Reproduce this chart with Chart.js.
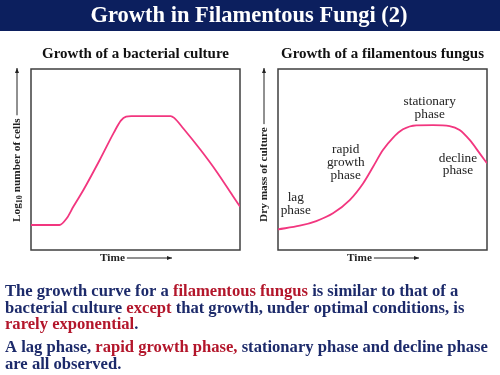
<!DOCTYPE html>
<html>
<head>
<meta charset="utf-8">
<script src="https://cdn.jsdelivr.net/npm/chart.js@4"></script>
<style>
  html, body { margin: 0; padding: 0; background: #fff; }
  body { width: 500px; height: 375px; position: relative; overflow: hidden; }
  canvas { position: absolute; }
  #slide { left: 0; top: 0; }
  #left { left: 0; top: 40px; }
  #right { left: 250px; top: 40px; }
</style>
</head>
<body>
<canvas id="slide" width="500" height="375"></canvas>
<canvas id="left" width="250" height="230"></canvas>
<canvas id="right" width="250" height="230"></canvas>
<script>
// Bacterial culture curve (time %, log10 cells %)
const bacteriaTime = [0, 13.6, 17.1, 20.3, 25, 33, 39.7, 43, 45.5, 48, 66.8, 68.5, 73, 81, 89, 96.5, 100];
const bacteriaCells = [13.8, 13.8, 17.5, 24, 33, 50, 65, 71.5, 73.7, 74, 74, 73, 67, 55.5, 43, 30, 24];

// Filamentous fungus curve (time %, dry mass %)
const fungusTime = [0, 10.4, 18.3, 26.3, 34.3, 40.7, 45.5, 50.2, 55, 59.8, 66.2, 74.2, 82.1, 86.9, 91.7, 96.5, 100];
const fungusMass = [11.4, 13.4, 16, 20.3, 27.6, 36.8, 46, 55.2, 62, 66.7, 68.9, 69, 68.5, 66.3, 60.8, 53.4, 47.9];

// Phase labels on the fungus chart
const phaseLines = [['lag', 'phase'], ['rapid', 'growth', 'phase'], ['stationary', 'phase'], ['decline', 'phase']];
const phaseX = [8.5, 32.4, 72.6, 86.1];
const phaseY = [25.3, 48.5, 78.3, 47.2];

// Slide notes, one entry per printed line: [text, isRed]
const noteLines = [
    [['The growth curve for a ', 0], ['filamentous fungus', 1], [' is similar to that of a', 0]],
    [['bacterial culture ', 0], ['except', 1], [' that growth, under optimal conditions, is', 0]],
    [['rarely exponential', 1], ['.', 0]],
    [['A lag phase, ', 0], ['rapid growth phase,', 1], [' stationary phase and decline phase', 0]],
    [['are all observed.', 0]]
];
const noteY = [292, 308.5, 325, 348, 364.5];

const curveColor = '#f2367f';
const inkColor = '#222';
const navy = '#1c2a6a';
const red = '#b3162b';
const serif = "'Liberation Serif', 'Times New Roman', serif";

// Title bar and notes
(function drawSlide() {
    const ctx = document.getElementById('slide').getContext('2d');
    ctx.fillStyle = '#0c1f5e';
    ctx.fillRect(0, 0, 500, 31);
    ctx.fillStyle = '#fff';
    ctx.font = 'bold 22.5px ' + serif;
    ctx.textAlign = 'center';
    ctx.textBaseline = 'middle';
    ctx.fillText('Growth in Filamentous Fungi (2)', 249, 16);

    ctx.font = 'bold 16.6px ' + serif;
    ctx.textAlign = 'left';
    noteLines.forEach((parts, i) => {
        let x = 5;
        parts.forEach(([t, r]) => {
            ctx.fillStyle = r ? red : navy;
            ctx.fillText(t, x, noteY[i]);
            x += ctx.measureText(t).width;
        });
    });
})();

function arrow(ctx, x1, y1, x2, y2) {
    const ang = Math.atan2(y2 - y1, x2 - x1);
    ctx.beginPath();
    ctx.moveTo(x1, y1);
    ctx.lineTo(x2, y2);
    ctx.stroke();
    ctx.beginPath();
    ctx.moveTo(x2, y2);
    ctx.lineTo(x2 - 5 * Math.cos(ang) + 2 * Math.sin(ang), y2 - 5 * Math.sin(ang) - 2 * Math.cos(ang));
    ctx.lineTo(x2 - 5 * Math.cos(ang) - 2 * Math.sin(ang), y2 - 5 * Math.sin(ang) + 2 * Math.cos(ang));
    ctx.closePath();
    ctx.fill();
}

// Frame, axis captions with arrows, phase labels
const decor = {
    id: 'decor',
    beforeDatasetsDraw(chart, args, opts) {
        const a = chart.chartArea;
        const ctx = chart.ctx;
        ctx.save();
        ctx.strokeStyle = '#3f3f3f';
        ctx.lineWidth = 1.5;
        ctx.strokeRect(a.left, a.top, a.right - a.left, a.bottom - a.top);
        ctx.restore();
    },
    afterDraw(chart, args, opts) {
        const a = chart.chartArea;
        const ctx = chart.ctx;
        ctx.save();
        ctx.fillStyle = inkColor;
        ctx.strokeStyle = inkColor;
        ctx.lineWidth = 1;

        // y caption, rotated
        ctx.save();
        ctx.translate(a.left - 14, a.bottom - 28);
        ctx.rotate(-Math.PI / 2);
        ctx.textBaseline = 'middle';
        ctx.textAlign = 'left';
        let w = 0;
        opts.yParts.forEach(p => {
            ctx.font = 'bold ' + (p.sub ? 8 : 11.3) + 'px ' + serif;
            ctx.fillText(p.t, w, p.sub ? 3 : 0);
            w += ctx.measureText(p.t).width;
        });
        arrow(ctx, w + 3, 0, (a.bottom - 28) - a.top + 1, 0);
        ctx.restore();

        // x caption
        ctx.font = 'bold 11.3px ' + serif;
        ctx.textBaseline = 'middle';
        ctx.textAlign = 'left';
        const tx = a.left + 69, ty = a.bottom + 8;
        ctx.fillText('Time', tx, ty);
        const tw = ctx.measureText('Time').width;
        arrow(ctx, tx + tw + 2, ty, a.left + 141, ty);

        // phase labels
        if (opts.phases) {
            const xs = chart.scales.x, ys = chart.scales.y;
            ctx.font = '13.3px ' + serif;
            ctx.textAlign = 'center';
            ctx.fillStyle = '#222';
            phaseLines.forEach((lines, i) => {
                const cx = xs.getPixelForValue(phaseX[i]);
                const cy = ys.getPixelForValue(phaseY[i]);
                const lh = 12.8;
                lines.forEach((t, j) => {
                    ctx.fillText(t, cx, cy + (j - (lines.length - 1) / 2) * lh);
                });
            });
        }
        ctx.restore();
    }
};

function makeChart(id, title, xs, ys, pad, yParts, phases) {
    return new Chart(document.getElementById(id), {
        type: 'line',
        data: {
            datasets: [{
                data: xs.map((x, i) => ({ x: x, y: ys[i] })),
                borderColor: curveColor,
                borderWidth: 1.8,
                pointRadius: 0,
                cubicInterpolationMode: 'monotone',
                fill: false
            }]
        },
        options: {
            responsive: false,
            animation: false,
            layout: { padding: pad },
            scales: {
                x: { type: 'linear', min: 0, max: 100, display: false },
                y: { type: 'linear', min: 0, max: 100, display: false }
            },
            plugins: {
                legend: { display: false },
                tooltip: { enabled: false },
                title: {
                    display: true,
                    text: title,
                    color: '#111',
                    font: { family: serif, size: 15, weight: 'bold' },
                    padding: { top: 5, bottom: 6 }
                },
                decor: { yParts: yParts, phases: phases }
            }
        },
        plugins: [decor]
    });
}

makeChart('left', 'Growth of a bacterial culture', bacteriaTime, bacteriaCells,
    { left: 31, right: 10, top: 0, bottom: 20 },
    [{ t: 'Log' }, { t: '10', sub: true }, { t: ' number of cells' }], false);

makeChart('right', 'Growth of a filamentous fungus', fungusTime, fungusMass,
    { left: 28, right: 13, top: 0, bottom: 20 },
    [{ t: 'Dry mass of culture' }], true);
</script>
</body>
</html>
